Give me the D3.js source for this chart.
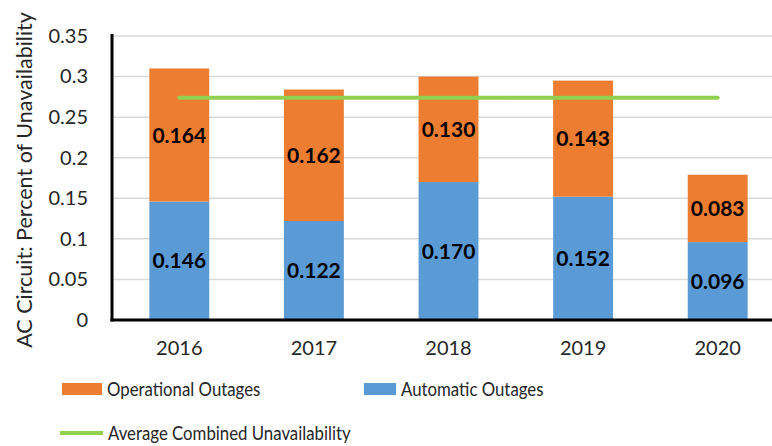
<!DOCTYPE html>
<html>
<head>
<meta charset="utf-8">
<script src="https://cdn.jsdelivr.net/npm/d3@7"></script>
<style>
  html, body { margin: 0; padding: 0; background: #fff; }
  svg { display: block; font-family: Lato, "Open Sans", sans-serif; }
</style>
</head>
<body>
<svg id="chart" width="772" height="446"></svg>
<script>
// chart data
const years = ["2016", "2017", "2018", "2019", "2020"];
const automatic = [0.146, 0.122, 0.170, 0.152, 0.096];
const operational = [0.164, 0.162, 0.130, 0.143, 0.083];
const averageCombined = 0.274;
const yTicks = [0, 0.05, 0.1, 0.15, 0.2, 0.25, 0.3, 0.35];
const yTickLabels = ["0", "0.05", "0.1", "0.15", "0.2", "0.25", "0.3", "0.35"];

const blue = "#5b9bd5", orange = "#ed7d31", green = "#92d050";

const svg = d3.select("#chart");

const margin = {left: 112, top: 36, bottom: 320};
const xRight = 785;

const x = d3.scaleBand()
  .domain(years)
  .range([margin.left, xRight])
  .paddingInner(0.555)
  .paddingOuter(0.2775);

const y = d3.scaleLinear()
  .domain([0, 0.35])
  .range([margin.bottom, margin.top]);

// gridlines
svg.append("g")
  .selectAll("line")
  .data(yTicks.slice(1))
  .enter()
  .append("line")
  .attr("x1", margin.left)
  .attr("x2", xRight)
  .attr("y1", d => y(d))
  .attr("y2", d => y(d))
  .style("stroke", "#d9d9d9")
  .style("stroke-width", 1.5);

// stacked bars
const rows = years.map((yr, i) => ({year: yr, auto: automatic[i], op: operational[i]}));

const bars = svg.append("g").attr("id", "bars");

bars.selectAll("rect.auto")
  .data(rows)
  .enter()
  .append("rect")
  .attr("class", "auto")
  .attr("x", d => x(d.year))
  .attr("y", d => y(d.auto))
  .attr("width", x.bandwidth())
  .attr("height", d => y(0) - y(d.auto))
  .style("fill", blue);

bars.selectAll("rect.op")
  .data(rows)
  .enter()
  .append("rect")
  .attr("class", "op")
  .attr("x", d => x(d.year))
  .attr("y", d => y(d.auto + d.op))
  .attr("width", x.bandwidth())
  .attr("height", d => y(d.auto) - y(d.auto + d.op))
  .style("fill", orange);

// value labels
const labels = svg.append("g")
  .style("font-size", "21px")
  .style("font-weight", "bold")
  .style("fill", "#000")
  .attr("text-anchor", "middle");

labels.selectAll("text.auto")
  .data(rows)
  .enter()
  .append("text")
  .attr("x", d => x(d.year) + x.bandwidth() / 2)
  .attr("y", d => (y(0) + y(d.auto)) / 2)
  .attr("dy", "0.36em")
  .text(d => d.auto.toFixed(3));

labels.selectAll("text.op")
  .data(rows)
  .enter()
  .append("text")
  .attr("x", d => x(d.year) + x.bandwidth() / 2)
  .attr("y", d => (y(d.auto) + y(d.auto + d.op)) / 2)
  .attr("dy", "0.36em")
  .text(d => d.op.toFixed(3));

// average line
svg.append("line")
  .attr("x1", x(years[0]) + x.bandwidth() / 2)
  .attr("x2", x(years[years.length - 1]) + x.bandwidth() / 2)
  .attr("y1", y(averageCombined))
  .attr("y2", y(averageCombined))
  .style("stroke", green)
  .style("stroke-width", 4)
  .style("stroke-linecap", "round");

// axes
const yAxis = d3.axisLeft(y)
  .tickValues(yTicks)
  .tickFormat((d, i) => yTickLabels[i])
  .tickSize(0)
  .tickPadding(24);

const gy = svg.append("g")
  .attr("transform", `translate(${margin.left},0)`)
  .call(yAxis);
gy.select(".domain").remove();
gy.selectAll("text")
  .style("font-size", "20px")
  .style("font-family", "Lato, sans-serif")
  .style("fill", "#262626");

const xAxis = d3.axisBottom(x).tickSize(0).tickPadding(21);
const gx = svg.append("g")
  .attr("transform", `translate(0,${y(0)})`)
  .call(xAxis);
gx.select(".domain").remove();
gx.selectAll("text")
  .style("font-size", "20px")
  .style("font-family", "Lato, sans-serif")
  .style("fill", "#262626");

svg.append("line")
  .attr("x1", margin.left).attr("x2", margin.left)
  .attr("y1", y(0.35) - 2).attr("y2", y(0) + 1.5)
  .style("stroke", "#000").style("stroke-width", 3);
svg.append("line")
  .attr("x1", margin.left - 1.5).attr("x2", xRight)
  .attr("y1", y(0)).attr("y2", y(0))
  .style("stroke", "#000").style("stroke-width", 3);

// y axis title
svg.append("text")
  .attr("transform", "translate(32,180) rotate(-90)")
  .attr("text-anchor", "middle")
  .style("font-size", "21.5px")
  .style("fill", "#262626")
  .text("AC Circuit: Percent of Unavailability");

// legend
const legend = svg.append("g").style("font-size", "20px").style("fill", "#262626");
const legendItems = [
  {label: "Operational Outages", color: orange, kind: "rect", x: 62, y: 389, w: 40},
  {label: "Automatic Outages", color: blue, kind: "rect", x: 364, y: 389, w: 32},
  {label: "Average Combined Unavailability", color: green, kind: "line", x: 60, y: 433, w: 43}
];
legendItems.forEach(it => {
  if (it.kind === "rect") {
    legend.append("rect")
      .attr("x", it.x).attr("y", it.y - 6)
      .attr("width", it.w).attr("height", 12)
      .style("fill", it.color);
  } else {
    legend.append("line")
      .attr("x1", it.x).attr("x2", it.x + it.w)
      .attr("y1", it.y).attr("y2", it.y)
      .style("stroke", it.color).style("stroke-width", 4);
  }
  // legend text is narrow in the original, squeeze it a bit
  legend.append("text")
    .attr("transform", `translate(${it.x + it.w + 5},${it.y}) scale(0.84,1)`)
    .attr("dy", "0.35em")
    .text(it.label);
});
</script>
</body>
</html>
